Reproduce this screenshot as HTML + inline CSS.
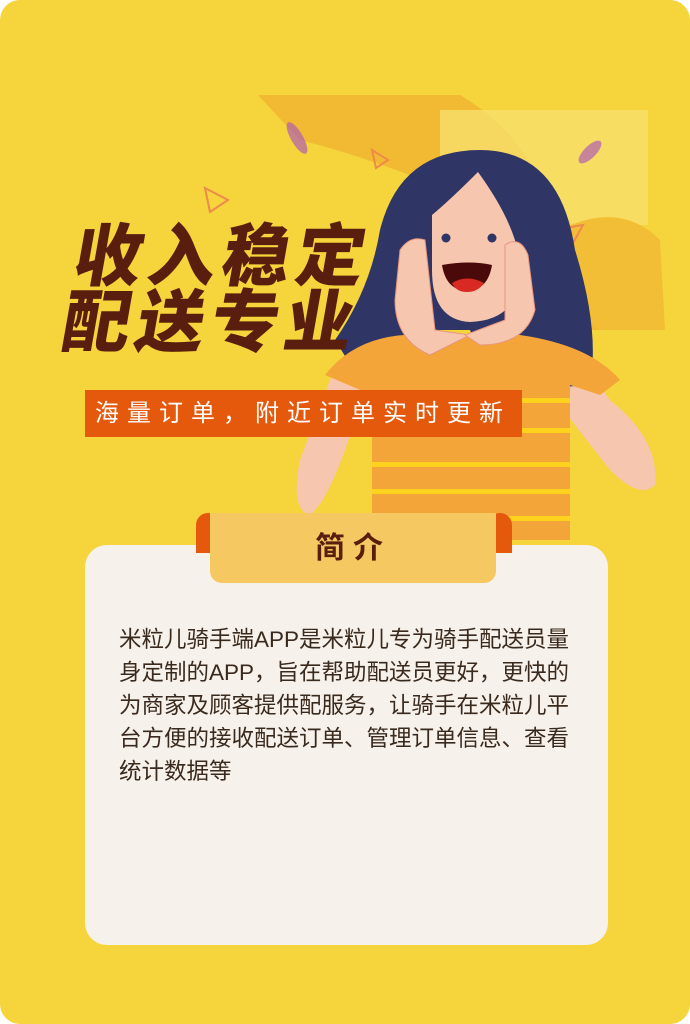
<!DOCTYPE html>
<html><head><meta charset="utf-8">
<style>
html,body{margin:0;padding:0;background:#fff;}
#page{position:relative;width:690px;height:1024px;background:#F5D43C;border-radius:20px;overflow:hidden;font-family:"Liberation Sans","Noto Sans CJK SC",sans-serif;}
.abs{position:absolute;}
#title{left:70px;top:218px;color:#5A1E0E;font-size:68px;font-weight:900;line-height:66px;letter-spacing:6px;transform:skewX(-10deg);font-family:"Noto Sans CJK SC",sans-serif;white-space:nowrap;}
#banner{left:85px;top:390px;width:437px;height:47px;background:#E5590C;color:#fff;font-size:24px;line-height:47px;letter-spacing:8px;text-indent:10px;white-space:nowrap;}
#card{left:85px;top:545px;width:523px;height:400px;background:#F6F1EA;border-radius:22px;}
.ear{top:513px;width:24px;height:40px;background:#E5590C;border-radius:12px 12px 0 0;}
#tab{left:210px;top:513px;width:286px;height:70px;background:#F5C862;border-radius:0 0 12px 12px;text-align:center;color:#5A1E0E;font-size:30px;font-weight:bold;line-height:72px;letter-spacing:8px;}
#body{left:119px;top:623px;width:480px;color:#3A2A1E;font-size:22.5px;line-height:33px;white-space:nowrap;}
</style></head><body>
<div id="page">
<svg class="abs" style="left:0;top:0" width="690" height="1024">
 <path d="M258 95 L460 95 Q520 130 550 200 L600 250 L660 330 L580 330 L470 200 Q380 160 300 140 Z" fill="#F0B330" opacity="0.8"/>
 <rect x="440" y="110" width="208" height="115" fill="#F8DF6A" opacity="0.8"/>
 <path d="M560 230 Q620 200 660 240 L665 330 L600 330 Q560 300 560 230Z" fill="#F2BE35"/>
 <path d="M205 188 L228 200 L210 212 Z" fill="none" stroke="#EE8A4A" stroke-width="2"/>
 <path d="M372 150 L388 160 L376 168 Z" fill="none" stroke="#EE8A4A" stroke-width="2"/>
 <path d="M565 228 L583 225 L572 245 Z" fill="none" stroke="#EE8A4A" stroke-width="2"/>
 <ellipse cx="297" cy="138" rx="6" ry="18" transform="rotate(-30 297 138)" fill="#B060B0" opacity="0.7"/>
 <ellipse cx="590" cy="152" rx="6" ry="15" transform="rotate(45 590 152)" fill="#B060B0" opacity="0.7"/>
 <path d="M300 460 Q290 510 310 515 Q330 500 355 420 L410 330 L390 300 L330 380 Z" fill="#F7C6AE"/>
 <path d="M560 330 L610 400 Q660 440 655 485 Q640 500 610 470 L540 380 Z" fill="#F7C6AE"/>
 <path d="M480 150 Q560 150 575 250 Q600 330 590 385 L520 390 Q480 360 470 330 L440 330 Q400 340 360 380 L335 340 Q370 290 380 230 Q400 150 480 150Z" fill="#2F3565"/>
 <path d="M325 375 Q360 330 430 335 L520 335 Q590 345 620 380 L600 395 L570 385 L570 540 L372 540 L372 395 Z" fill="#F3A53A"/>
 <g fill="#FFD21E">
  <rect x="372" y="398" width="198" height="5"/><rect x="372" y="428" width="198" height="5"/>
  <rect x="372" y="462" width="198" height="5"/><rect x="372" y="489" width="198" height="5"/><rect x="372" y="516" width="198" height="5"/>
 </g>
 <path d="M478 172 Q520 230 520 270 Q520 320 470 322 Q432 320 432 270 L432 215 Q450 200 478 172Z" fill="#F7C6AE"/>
 <circle cx="446" cy="238" r="4.5" fill="#2F3565"/><circle cx="492" cy="238" r="4.5" fill="#2F3565"/>
 <path d="M442 265 Q470 260 492 265 Q488 290 467 291 Q446 290 442 265Z" fill="#4A0A0A"/>
 <path d="M452 283 Q467 274 484 283 Q478 292 467 292 Q456 292 452 283Z" fill="#D82A22"/>
 <path d="M400 250 Q410 235 425 240 L435 330 L470 335 L430 355 Q395 340 395 300Z" fill="#F7C6AE" stroke="#E8957E" stroke-width="1"/>
 <path d="M505 245 Q520 235 528 255 L535 310 Q525 345 480 345 L465 335 L505 320Z" fill="#F7C6AE" stroke="#E8957E" stroke-width="1"/>
</svg>
<div id="title" class="abs">收入稳定<br>配送专业</div>
<div id="banner" class="abs">海量订单，附近订单实时更新</div>
<div id="card" class="abs"></div>
<div class="abs ear" style="left:196px"></div>
<div class="abs ear" style="left:488px"></div>
<div id="tab" class="abs">简介</div>
<div id="body" class="abs">米粒儿骑手端APP是米粒儿专为骑手配送员量<br>身定制的APP，旨在帮助配送员更好，更快的<br>为商家及顾客提供配服务，让骑手在米粒儿平<br>台方便的接收配送订单、管理订单信息、查看<br>统计数据等</div>
</div>
</body></html>
